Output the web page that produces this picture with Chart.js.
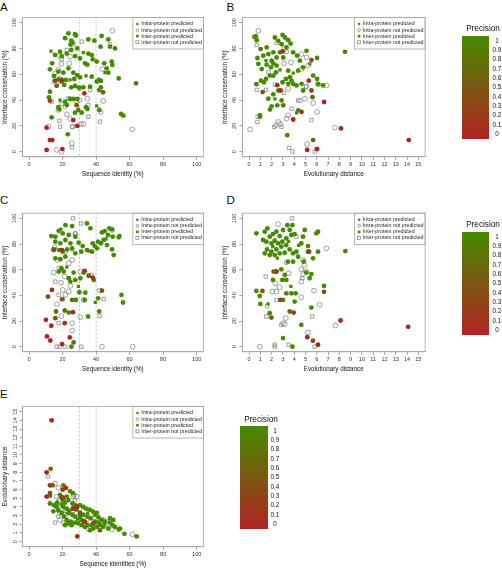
<!DOCTYPE html>
<html>
<head>
<meta charset="utf-8">
<script src="https://cdn.jsdelivr.net/npm/chart.js@4.4.1/dist/chart.umd.min.js"></script>
<style>
  body { margin: 0; background: #fff; width: 502px; height: 568px; position: relative; overflow: hidden;
         font-family: "Liberation Sans", Arial, sans-serif; }
  canvas { position: absolute; }
  .letter { position: absolute; font-size: 11.5px; line-height: 1; color: #111; }
  .ctitle { position: absolute; width: 60px; font-size: 8.2px; line-height: 1; color: #111; text-align: center; white-space: nowrap; will-change: transform; }
  .cbar { position: absolute; background: linear-gradient(to top, rgb(178,34,34), rgb(69,139,0)); }
  .clabel { position: absolute; width: 20px; font-size: 6.3px; line-height: 1; color: #111; text-align: center; white-space: nowrap; will-change: transform; }
</style>
</head>
<body>
<div class="letter" style="left:0px;top:1.8px">A</div>
<div class="letter" style="left:226.5px;top:1.8px">B</div>
<div class="letter" style="left:0px;top:195.2px">C</div>
<div class="letter" style="left:226.5px;top:195.2px">D</div>
<div class="letter" style="left:0px;top:388.5px">E</div>

<canvas id="panelA" width="232" height="178" style="left:0px;top:0px"></canvas>
<canvas id="panelB" width="210" height="178" style="left:220px;top:0px"></canvas>
<canvas id="panelC" width="232" height="178" style="left:0px;top:195px"></canvas>
<canvas id="panelD" width="210" height="178" style="left:220px;top:195px"></canvas>
<canvas id="panelE" width="232" height="179" style="left:0px;top:389px"></canvas>

<script>
const FONT = '"Liberation Sans", Arial, sans-serif';

// series and ticks
const seriesNames = ['Intra-protein predicted', 'Intra-protein not predicted', 'Inter-protein predicted', 'Inter-protein not predicted'];
const identityTicks = [0, 20, 40, 60, 80, 100];
const conservationTicks = [0, 20, 40, 60, 80, 100];
const distanceTicks = [0, 1, 2, 3, 4, 5, 6, 7, 8, 9, 10, 11, 12, 13, 14, 15];
const precisionTicks = [1, 0.9, 0.8, 0.7, 0.6, 0.5, 0.4, 0.3, 0.2, 0.1, 0];
const identityCutoffs = [30, 40];

// A: sequence identity vs interface conservation  [x, y, precision]
const aIntraPred = [[23.5,91.7,1],[27.4,91,1],[21.5,88,1],[25.2,86,1],[26,84.5,1],[24.7,83,1],[28,90,1],[35.4,87,1],[39,86,1],[43.3,89.7,1],[47.3,87,1],[48.3,81.4,1],[51.3,80,1],[42.7,81.4,1],[35.4,76,1],[15.5,75,1],[18.5,77.5,1],[19.5,74,1],[22.5,76,1],[25.2,78.8,1],[28.8,80,1],[30.4,72.3,1],[27.5,74,1],[37.4,74.9,1],[38,71.6,1],[33.4,68.5,1],[34.8,67.4,1],[40.4,69.8,1],[44.9,68.5,1],[49.3,69.8,1],[49.7,67.2,1],[46.3,64.6,1],[47.3,61.2,1],[53.5,56.8,1],[63.8,53,0.9],[42.9,54.8,1],[41.7,55.6,1],[40.4,54.3,1],[37.4,58.1,1],[36.4,50.4,1],[32.4,49.9,1],[29.8,49.6,1],[27.5,50.9,1],[25.2,49.9,1],[21,51.7,1],[19.5,54.3,1],[17.5,56,1],[14.9,58.7,1],[12.5,63.8,1],[13.8,68.5,1],[17.5,62,1],[20.5,61.2,1],[23.5,64.6,1],[26.4,61.2,1],[28.8,59.4,1],[22,55.6,1],[27,56.3,1],[30.4,57.6,1],[42.9,49.9,1],[41.9,47.8,1],[12.5,46.5,1],[11.9,42.1,1],[21.5,38.8,1],[24.5,40.8,1],[26.4,40.8,1],[28.8,40.8,1],[22.5,36.2,1],[18.1,32.8,1],[17.5,34.4,1],[27.4,30.2,1],[29.4,32.3,1],[34,34.4,1],[34.8,33,1],[41.9,32.3,1],[54.9,29.2,1],[56.3,27.9,1],[23.1,13.4,1],[13.5,26.6,1],[31.4,30.2,1],[15.5,55,0.3],[19.5,55.6,0.1],[12.5,39.5,0.3],[33,45.2,0.1],[44.2,46,0.5],[28.4,36,0.5],[26.4,24.5,0],[28.8,19.9,0],[10.5,18.6,0],[12.5,9,0],[13.9,9,0.1],[10.5,1.3,0],[19.9,2,0],[16.5,51,0.6]];
const aIntraNot = [[49.7,93.8],[24.5,73.6],[18.1,74.2],[19.3,68],[24,68.5],[17.5,63.3],[15.5,60.7],[43.7,64.1],[18.5,56.6],[30.4,49.1],[17.5,32.3],[22.5,28.9],[24.5,25.3],[26,19.4],[31,21.4],[32.4,21.4],[44.3,39.3],[61.6,17.3],[11.5,19.4],[25.5,6.5],[16.5,1.3],[19.5,0],[15.1,54.3],[34.8,41.1]];
const aInterPred = [[13.1,78,1],[32.4,76.7,1],[45.3,61.2,1],[24.5,55.6,1],[18.5,40,1],[40.4,35.4,1],[34,58.7,1]];
const aInterNot = [[48.3,83.2],[26.4,83.2],[31.4,85.3],[22.5,78.8],[19.5,71.6],[18.5,54.3],[19.5,37],[23.5,41.3],[21.5,34.9],[18.1,24],[18.5,19.4],[25.8,19.4],[35.4,27.1],[42.3,23.3],[42.9,30.5],[30.4,40],[36.4,47.8],[35.4,36.2],[13.5,38.8],[25.5,3.4],[28.4,38.8]];

// B: evolutionary distance vs interface conservation
const bIntraPred = [[0.59,89.5,1],[0.68,86.4,1],[1.03,79.5,0.7],[0.74,72.6,1],[0.82,68,1],[1.26,74.4,1],[1.56,67.4,1],[2,70.5,1],[2.15,68.5,1],[1.94,65.4,1],[2.44,66.7,1],[2.38,61.5,1],[1.85,59,1],[1.5,56.4,1],[1.06,55,1],[1.32,53.8,1],[0.65,52.3,1],[0.47,89,1],[2.97,90.5,1],[3.18,88.5,1],[3.47,86.4,1],[3.68,83.8,1],[3.32,80.8,1],[2.88,83.3,1],[2.59,85.9,1],[2.29,88.5,1],[3.91,77,1],[4.26,74.4,1],[4.5,70.5,1],[5.09,78.2,1],[6.03,72.6,1],[4.79,65.4,1],[4.35,62.8,1],[3.62,57.7,1],[3.26,56.4,1],[2.97,53.8,1],[3.47,52.6,1],[3.91,52.6,1],[4.21,51.3,1],[4.65,52.6,1],[5.68,59,1],[6.03,56.4,1],[6.12,52.6,1],[6.56,51.3,1],[4.79,47.4,1],[2.59,47.4,1],[2.15,44.4,1],[1.71,41,1],[2.88,39.7,1],[2.5,35.9,1],[2,35.1,1],[1.85,32.6,1],[3.03,35.9,0.7],[4.35,32,1],[0.97,28.2,1],[0.97,27,1],[3.38,12.8,1],[5.68,9,0.6],[3.47,62.8,1],[3.76,55,1],[1.56,80.8,1],[1.71,75.6,1],[2.15,77,1],[2.44,73,1],[2.74,77,1],[3.03,73,1],[1.12,64,1],[2.15,59,1],[8.5,77.4,0.9],[2.97,77.7,0.1],[2.5,51.5,0.1],[2.79,47.4,0.1],[1.2,46.2,0.5],[3.91,24.9,0],[5.29,55,0.1],[5.53,47.4,0.4],[5.62,42.3,0.6],[4.65,30.8,0.1],[6.65,38.5,0],[5.15,1.3,0],[6.03,2,0],[5.53,71,0.4],[8.14,18,0],[14.15,9,0]];
const bIntraNot = [[0.82,93.6],[0.09,17.2],[3.32,25.6],[2.38,20.5],[2.59,23],[2.74,21.3],[3.47,28.2],[4.65,75.6],[5.09,73],[5.24,66.7],[4.65,64],[3.71,69.2],[3.09,68.5],[3.47,48.7],[5.09,50.5],[4.94,41],[6.12,52],[6.85,51.3],[5.68,37.7],[6.03,30.8],[5.15,5.9],[4.5,39.7],[7.6,18.7]];
const bInterPred = [[1.5,70.5,1],[3.91,60.8,1],[2.29,41,1],[4.21,30,1],[2.74,63.3,1],[5.38,68,1]];
const bInterNot = [[0.68,82.6],[2.44,84.4],[3.09,80.3],[3.32,77.4],[1.71,61.5],[2.29,52],[0.68,47.9],[1.5,47.9],[0.76,27],[0.74,23],[2.24,19.2],[2.88,19.2],[3.53,3],[3.85,0],[5.53,24.4],[5.03,50.5],[4.35,39.7],[5.97,2],[5.82,0],[3.09,45.6],[3.76,33.3]];

// C: sequence identity vs interface conservation
const cIntraPred = [[21.7,94.7,1],[25.7,94,1],[34.6,96,1],[36.6,92.2,1],[43.5,89,1],[45.1,90,1],[47.9,92.2,1],[49.5,91.4,1],[53.5,85.2,1],[49.9,85.7,1],[47.1,87,1],[44.5,83.1,1],[42.9,80.5,1],[41.2,81.8,1],[39.2,78.4,1],[38,80.5,1],[40.6,76.6,1],[46.5,79.2,1],[49.5,75.8,1],[50.5,71.4,1],[37.6,74,1],[34.6,75.3,1],[32,78.4,1],[29.6,81,1],[27.6,85.7,1],[23.7,87,1],[20.1,88.3,1],[17.7,90.3,1],[13.3,86.2,0.9],[15.7,81.8,1],[18.7,80.5,1],[21.7,83.1,1],[24.7,80.5,1],[25.7,76.6,1],[22.7,75.8,1],[20.1,74,1],[18.1,75.3,1],[14.7,75.3,1],[27.6,72.7,1],[31.2,74,1],[21.7,70.1,1],[18.7,68.1,1],[15.7,68.8,1],[20.7,58.5,1],[17.7,58.5,1],[19.3,61.1,1],[26.6,57.7,1],[23.7,53.3,1],[27.6,52,1],[30.6,53.3,1],[24.7,50.7,1],[38.6,52,1],[32.6,57.7,1],[30,42.4,1],[33.6,42.1,1],[25.7,36.4,0.8],[28,36.4,1],[33.2,36.4,1],[41.2,37.7,1],[55.1,40.3,1],[56.1,34.4,1],[16.1,27.4,0.7],[21.3,28.2,0.7],[23.7,26.6,1],[35.2,23.5,1],[41.9,27.4,1],[25.3,0,1],[53.9,86.2,1],[15.7,85.7,1],[19.7,75.3,0.1],[14.7,75.8,0.5],[33.2,59,0.1],[38,53.8,0.1],[35.6,55.1,0.7],[11.3,39,0.4],[13.7,44.2,0.1],[43.5,43.7,0.4],[15.7,22.2,0.5],[21.3,18.3,0.1],[26.2,26.9,0.1],[10.1,20.9,0],[13.3,16.3,0],[10.7,8,0],[12.7,4.8,0.1],[24.3,7.2,0],[19.7,2,0],[26.6,3.3,0.6],[19.7,37,0.6]];
const cIntraNot = [[49.5,90.9],[27.6,87.7],[15.3,77.4],[17.1,67.5],[23.7,65],[25.7,67.5],[18.1,61.1],[14.7,57.7],[21.3,54.6],[30.6,58.5],[19.1,49.9],[20.1,44.2],[23.7,42.9],[21.7,40.3],[32.6,36.4],[16.7,33.1],[30.6,23],[19.3,23.8],[25.7,18.3],[25.7,12.6],[43.5,0],[61.8,0],[42.1,43.7],[24.7,47.3]];
const cInterPred = [[36.2,74.5,1],[22.5,62,1],[29.5,47,1],[39.5,34.5,1],[46,84,1],[19,91.5,1]];
const cInterNot = [[26.2,100],[31.2,96],[27.6,88.3],[15.3,75.8],[25.7,75.8],[21.7,74],[35.6,55.6],[15.7,50.7],[20.1,37],[17.7,40.3],[44.5,37],[42.1,24],[17.7,18.3],[16.5,0],[18.3,0],[31.2,0],[21.7,0],[37.2,55.9]];

// D: evolutionary distance vs interface conservation
const dIntraPred = [[0.65,88.3,1],[1.39,89.6,1],[1.62,92.2,1],[1.83,85.7,1],[2.12,87.7,1],[2.42,89.6,1],[2.71,86.2,1],[3.01,90.9,1],[3.39,94.7,1],[3.84,94.7,1],[3.6,90.9,1],[3.75,87,1],[4.04,87.7,1],[4.78,85.7,1],[4.93,90.9,1],[5.96,88.3,1],[6.11,89.6,1],[8.53,74.5,0.9],[1.24,83.1,1],[1.53,81.8,1],[1.98,80.5,1],[2.27,82.6,1],[2.57,80.5,1],[2.95,81.8,1],[3.3,84.4,1],[3.3,79.2,1],[2.86,77.9,1],[2.42,75.8,1],[1.98,74,1],[1.59,75.8,1],[1.39,72.7,1],[1.83,71.4,1],[2.27,71.4,1],[2.71,72.7,1],[3.16,73.2,1],[3.6,75.8,1],[3.9,72.7,1],[4.19,74,1],[4.34,70.1,1],[3.9,66.2,1],[3.45,66.2,1],[4.63,80.5,1],[5.22,78.4,1],[5.22,74,1],[6.11,74,1],[5.67,68.8,1],[4.84,66.2,1],[2.42,58.5,1],[2.86,60.3,1],[3.16,55.9,1],[3.3,52,1],[2.95,52,1],[2.12,52,1],[5.07,57.7,1],[5.52,56.6,1],[5.37,53.3,1],[6.64,47.3,1],[3.3,41.6,1],[3.75,41.6,1],[4.13,41.6,1],[0.95,39.5,1],[1,33.3,1],[1.83,26.1,1],[3.01,36.4,1],[4.04,35.1,1],[5.52,30.5,1],[4.63,17,1],[3.01,6.7,1],[3.84,0,1],[0.65,43.4,1],[5.31,74,0.1],[2.42,58.5,0.1],[2.18,58.5,0.6],[1.18,43.4,0.4],[6.64,42.7,0.4],[3.95,26.6,0.1],[3.6,27.4,0.6],[8.11,20.4,0],[5.16,7.4,0],[5.66,4.6,0.5],[6.11,1.5,0],[2.77,36.4,0.4],[1.98,22.7,0.6],[14.1,15.5,0]];
const dIntraNot = [[2.57,95.5],[6.85,76.6],[4.78,67.5],[5.07,58.5],[4.63,60.3],[4.78,56.6],[3.51,57.2],[2.33,49.4],[2.71,46.3],[2.07,42.9],[2.42,42.9],[4.63,50.7],[4.63,38.5],[5.75,43.7],[6.25,32.6],[7.64,16.5],[3.25,22.2],[3.01,18.3],[3.16,17.5],[5.22,11.1],[0.95,0],[4.93,63.7]];
const dInterPred = [[1.68,33.3,1],[2.5,69,1],[3.5,82,1],[4.4,79,1],[2.1,78,1],[3.7,47,1]];
const dInterNot = [[3.81,100],[4.19,85.7],[3.3,65.5],[1.48,54.6],[1.59,31.5],[1.53,23.5],[2.42,36.4],[2.86,17],[3.51,1.5],[2.27,1.5],[2.27,0],[5.81,0],[5.6,23.5],[4.72,53.3]];

// E: sequence identity vs evolutionary distance
const eIntraPred = [[12.9,8.4,0.8],[12.5,5.3,1],[12.5,4.4,1],[20.5,6.5,1],[26.1,5.6,1],[14.5,3.5,1],[40.4,3.3,1],[50.3,2.5,1],[53.5,1.4,1],[56.9,0.9,1],[64.2,0.6,0.9],[14.9,4.2,1],[16.5,4.4,1],[19.5,4.3,1],[21.5,4.5,1],[23.5,4.8,1],[25.9,4.4,1],[27.4,4.2,1],[28.8,4.1,1],[30.4,4.2,1],[32.4,4,1],[34,3.8,1],[36,3.7,1],[38,3.5,1],[39.4,3.1,1],[41.4,2.8,1],[43.3,2.5,1],[45.3,2.3,1],[48.3,2.2,1],[49.9,1.9,1],[51.3,1.7,1],[54.3,1.5,1],[42.3,1.9,1],[40.4,1.7,1],[38.4,1.5,1],[36.4,1.3,1],[33.4,1.7,1],[31.4,1.9,1],[29.4,2.1,1],[27.4,2.2,1],[24.9,2.3,1],[22.5,2.5,1],[20.9,2.9,1],[19.5,3.3,1],[17.5,3.6,1],[23.5,3.3,1],[25.9,3.1,1],[27.4,2.9,1],[30.4,2.9,1],[32.4,3.1,1],[34.8,2.9,1],[36.8,2.7,1],[28.4,3.7,1],[26,3.8,1],[22.5,3.8,1],[20.5,4,1],[31.4,2.5,1],[39.4,2.3,1],[41.4,2.2,1],[44.3,1.7,1],[47.3,1.5,1],[48.3,2.7,1],[37.4,1.9,1],[34.8,1.9,1],[25.4,1.9,1],[23.5,2.1,1],[21.5,1.9,1],[16.5,4,1],[18.5,5.4,1],[24.5,5.8,1],[22.5,5.2,1],[20.5,4.8,1],[13.5,14,0],[10.5,8,0],[12.5,6.5,0.1],[14.1,6.5,0.5],[10.5,5.2,0],[12.5,5.6,0.4],[20.1,6,0.1],[22,6.2,0.1],[20.1,5.1,0],[28.8,0.6,0],[32.8,2.3,0.1],[26.4,3.8,0.1],[28.4,4,0],[33.4,2.3,0.4],[30.4,3.3,0.4],[19.5,5,0.4],[42.3,1.3,0.6],[38.4,2.1,0.4]];
const eIntraNot = [[15.5,6.7],[17.5,6.2],[16.5,5.2],[18.1,4.8],[26.4,5.2],[26.8,5.4],[18.5,3.3],[61.6,0.85],[44.3,2.5],[19.5,3.8],[22.5,3.5],[30.4,3.8],[28.4,5.2],[42.3,2.3],[30.4,3.1],[21.5,3.1],[25.9,3.5],[34.4,2.5],[49.3,1.4],[18.5,2.5]];
const eInterPred = [[24,3.6,1],[35,3.3,1],[29,2.6,1],[45,2,1],[17,4.6,1]];
const eInterNot = [[11.3,7.5],[15.5,2.2],[20.5,2.2],[17.5,2.9],[46.3,2.3],[35.4,1.4],[24.5,3.3],[22.5,2.2],[36.4,1.9],[38.4,2.3],[29.4,2.5],[44.3,2.3],[47.3,1.7],[27.4,4.8]];

// precision colour ramp, firebrick -> chartreuse4
const lowColor = [178, 34, 34], highColor = [69, 139, 0];
function precColor(p) {
  const c = lowColor.map((v, i) => Math.round(v + (highColor[i] - v) * p));
  return 'rgb(' + c.join(',') + ')';
}

const OPEN = '#7a7a7a';

// dashed cutoffs, box and the small legend in the corner
const panelDecor = {
  id: 'panelDecor',
  beforeDatasetsDraw(chart, args, opts) {
    const {ctx, chartArea: a, scales: {x}} = chart;
    ctx.save();
    ctx.strokeStyle = '#b5b5b5';
    ctx.lineWidth = 0.8;
    ctx.setLineDash([2, 2]);
    (opts.cutoffs || []).forEach(v => {
      const px = x.getPixelForValue(v);
      ctx.beginPath(); ctx.moveTo(px, a.top); ctx.lineTo(px, a.bottom); ctx.stroke();
    });
    ctx.restore();
  },
  afterDatasetsDraw(chart) {
    const {ctx, chartArea: a} = chart;
    const w = 70.5, h = 31.5, left = a.right - w, top = a.top;
    ctx.save();
    ctx.fillStyle = '#fff';
    ctx.fillRect(left, top, w, h);
    ctx.strokeStyle = '#999';
    ctx.lineWidth = 0.7;
    ctx.strokeRect(left, top, w, h);
    ctx.font = '5.3px ' + FONT;
    ctx.textBaseline = 'middle';
    ctx.fillStyle = '#222';
    chart.data.datasets.forEach((ds, i) => {
      const y = top + 6.5 + i * 6.1, mx = left + 4.5;
      ctx.beginPath();
      if (i === 0) { ctx.fillStyle = precColor(1); ctx.arc(mx, y, 1.3, 0, Math.PI * 2); ctx.fill(); }
      if (i === 1) { ctx.strokeStyle = OPEN; ctx.arc(mx, y, 1.4, 0, Math.PI * 2); ctx.stroke(); }
      if (i === 2) { ctx.fillStyle = precColor(1); ctx.fillRect(mx - 1.3, y - 1.3, 2.6, 2.6); }
      if (i === 3) { ctx.strokeStyle = OPEN; ctx.strokeRect(mx - 1.5, y - 1.5, 3, 3); }
      ctx.fillStyle = '#222';
      ctx.fillText(ds.label, left + 8.3, y);
    });
    ctx.restore();
  },
  afterDraw(chart) {
    const {ctx, chartArea: a} = chart;
    ctx.save();
    ctx.strokeStyle = '#a8a8a8';
    ctx.lineWidth = 0.8;
    ctx.strokeRect(a.left, a.top, a.right - a.left, a.bottom - a.top);
    ctx.restore();
  }
};

function axis(pos, ticks, min, max, title) {
  const horiz = pos === 'x';
  return {
    type: 'linear', min: min, max: max,
    afterBuildTicks: s => { s.ticks = ticks.map(v => ({value: v})); },
    afterFit: s => { if (horiz) s.height = 21.2; else s.width = 22.3; },
    grid: { drawOnChartArea: false, drawTicks: true, tickLength: 3, color: '#666', lineWidth: 0.6 },
    border: { display: true, color: '#888', width: 0.7 },
    ticks: horiz
      ? { padding: 1.5, autoSkip: false, maxRotation: 0, color: '#333', font: { size: 5.5 } }
      : { padding: 0.4, autoSkip: false, minRotation: 90, maxRotation: 90, crossAlign: 'center', color: '#333', font: { size: 5.5 } },
    title: { display: true, text: title, color: '#111', font: { size: 6.3 },
             padding: horiz ? { top: 0, bottom: 0 } : { top: 1.1, bottom: 0 } }
  };
}

function toPoints(rows) {
  return rows.map(r => ({ x: r[0], y: r[1], p: r.length > 2 ? r[2] : 1 }));
}

function scatterPanel(id, series, xAxis, yAxis, pad, cutoffs) {
  const filled = (rows, style, r) => ({
    data: toPoints(rows), pointStyle: style, pointRadius: r, pointBorderWidth: 0,
    pointBackgroundColor: c => precColor(c.raw ? c.raw.p : 1)
  });
  const open = (rows, style, r) => ({
    data: toPoints(rows), pointStyle: style, pointRadius: r, pointBorderWidth: 0.7,
    pointBorderColor: OPEN, pointBackgroundColor: 'rgba(0,0,0,0)'
  });
  const datasets = [
    filled(series[0], 'circle', 2.4),
    open(series[1], 'circle', 2.4),
    filled(series[2], 'rect', 2.3),
    open(series[3], 'rect', 2.4)
  ];
  datasets.forEach((d, i) => { d.label = seriesNames[i]; });
  new Chart(document.getElementById(id), {
    type: 'scatter',
    data: { datasets: datasets },
    options: {
      responsive: false,
      animation: false,
      layout: { padding: pad },
      scales: { x: xAxis, y: yAxis },
      plugins: { legend: { display: false }, tooltip: { enabled: false }, panelDecor: { cutoffs: cutoffs } }
    },
    plugins: [panelDecor]
  });
}

Chart.defaults.font.family = FONT;

const idTitle = 'Sequence identity (%)';
const consTitle = 'Interface conservation (%)';
const distTitle = 'Evolutionary distance';

scatterPanel('panelA', [aIntraPred, aIntraNot, aInterPred, aInterNot],
  axis('x', identityTicks, -4, 104, idTitle), axis('y', conservationTicks, -4, 104, consTitle),
  { left: 0, top: 17.5, right: 28.6, bottom: 0 }, identityCutoffs);
scatterPanel('panelB', [bIntraPred, bIntraNot, bInterPred, bInterNot],
  axis('x', distanceTicks, -0.6, 15.6, distTitle), axis('y', conservationTicks, -4, 104, consTitle),
  { left: 0, top: 17.5, right: 4.9, bottom: 0 }, []);
scatterPanel('panelC', [cIntraPred, cIntraNot, cInterPred, cInterNot],
  axis('x', identityTicks, -4, 104, idTitle), axis('y', conservationTicks, -4, 104, consTitle),
  { left: 0, top: 18.2, right: 28.6, bottom: 0 }, identityCutoffs);
scatterPanel('panelD', [dIntraPred, dIntraNot, dInterPred, dInterNot],
  axis('x', distanceTicks, -0.6, 15.6, distTitle), axis('y', conservationTicks, -4, 104, consTitle),
  { left: 0, top: 18.2, right: 4.9, bottom: 0 }, []);
scatterPanel('panelE', [eIntraPred, eIntraNot, eInterPred, eInterNot],
  axis('x', identityTicks, -4, 104, 'Sequence identities (%)'), axis('y', distanceTicks, -0.6, 15.6, distTitle),
  { left: 0, top: 17.5, right: 28.6, bottom: 0 }, identityCutoffs);

// precision colour keys
function colorKey(titleX, titleY, barX, barY, barW, barH, firstLabelY, lastLabelY) {
  const t = document.createElement('div');
  t.className = 'ctitle'; t.textContent = 'Precision';
  t.style.left = (titleX - 30) + 'px'; t.style.top = (titleY - 4.1) + 'px';
  document.body.appendChild(t);
  const b = document.createElement('div');
  b.className = 'cbar';
  Object.assign(b.style, { left: barX + 'px', top: barY + 'px', width: barW + 'px', height: barH + 'px' });
  document.body.appendChild(b);
  const step = (lastLabelY - firstLabelY) / (precisionTicks.length - 1);
  precisionTicks.forEach((v, i) => {
    const l = document.createElement('div');
    l.className = 'clabel'; l.textContent = String(v);
    l.style.left = (barX + barW + 7.5 - 10) + 'px';
    l.style.top = (firstLabelY + i * step - 3.15) + 'px';
    document.body.appendChild(l);
  });
}
colorKey(482.5, 29, 461.7, 36, 27.6, 102.5, 41, 134);
colorKey(482.5, 225, 461.7, 231.7, 27.6, 103.3, 236.7, 330);
colorKey(261, 420, 240, 426, 27.7, 103.3, 430.7, 524.3);
</script>
</body>
</html>
